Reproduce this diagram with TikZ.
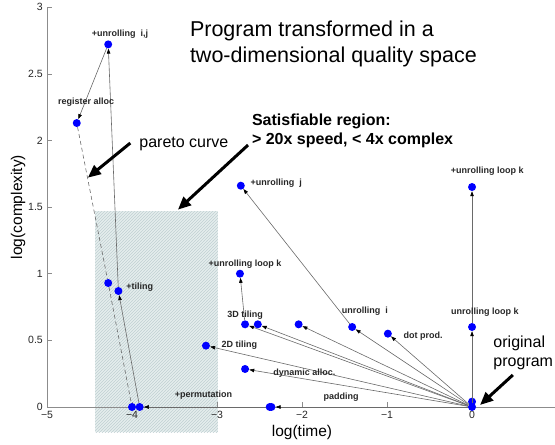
\documentclass[tikz,border=0pt]{standalone}
\usepackage{fontspec}
\setmainfont{Liberation Sans}
\usetikzlibrary{arrows.meta,positioning,patterns}
\definecolor{dotblue}{HTML}{0000FF}
\definecolor{axisgray}{HTML}{8C8C8C}
\definecolor{linkgray}{HTML}{6A6A6A}
\definecolor{hatchbg}{HTML}{E6EEEE}
\definecolor{hatchln}{HTML}{C0D0D2}

\begin{document}
\begin{tikzpicture}[x=85pt,y=133.3pt,
  pt/.style={circle,fill=dotblue,inner sep=0pt,minimum size=8pt},
  lbl/.style={font=\fontsize{9}{10}\selectfont\bfseries,inner sep=1pt,text=black!85},
  tick/.style={font=\fontsize{10.5}{11}\selectfont,inner sep=1pt,text=black!85},
  move/.style={draw=linkgray,line width=0.6pt,-{Triangle[length=5pt,width=3.5pt,color=black]}},
  big/.style={font=\fontsize{16}{19.5}\selectfont,align=left,inner sep=0pt},
  fat/.style={line width=3pt,-{Triangle[length=13pt,width=11pt]}}]
  \useasboundingbox (-5.553,-0.285) rectangle (0.976,3.053);

  % satisfiable region
  \fill[hatchbg] (-4.435,-0.19) rectangle (-2.99,1.47);
  \fill[pattern=north east lines,pattern color=hatchln] (-4.435,-0.19) rectangle (-2.99,1.47);

  % axes and ticks
  \draw[axisgray,line width=0.8pt] (-5,3) -- (-5,0) -- (0.976,0);
  \foreach \xv/\xt [count=\i] in {-5/−5,-4/−4,-3/−3,-2/−2,-1/−1,0/0} {
    \draw[axisgray] (\xv,0) -- ++(0,5pt);
    \node[tick,below=3pt] (xl\i) at (\xv,0) {\xt};
  }
  \foreach \yv [count=\i] in {0,0.5,1,1.5,2,2.5,3} {
    \draw[axisgray] (-5,\yv) -- ++(5pt,0);
    \node[tick,left=3pt] (yl\i) at (-5,\yv) {\yv};
  }
  \node[font=\fontsize{15.5}{16}\selectfont] (xlab) at (-2.0,-0.19) {log(time)};
  \node[font=\fontsize{15.5}{16}\selectfont,rotate=90] (ylab) at (-5.34,1.5) {log(complexity)};

  % program versions
  \node[pt] (orig) at (0,0) {};
  \node[pt] (orig2) at (0,0.04) {};
  \node[pt] (ulk1) at (0,0.6) {};
  \node[pt] (ulk2) at (0,1.65) {};
  \node[pt] (dotp) at (-0.99,0.55) {};
  \node[pt] (unri) at (-1.41,0.6) {};
  \node[pt] (t3c) at (-2.04,0.62) {};
  \node[pt] (t3b) at (-2.52,0.62) {};
  \node[pt] (t3a) at (-2.67,0.62) {};
  \node[pt] (ulkm) at (-2.73,1.0) {};
  \node[pt] (unj) at (-2.72,1.66) {};
  \node[pt] (t2d) at (-3.13,0.46) {};
  \node[pt] (dyn) at (-2.67,0.285) {};
  \node[pt] (pad) at (-2.38,0) {};
  \node[pt] (pad2) at (-2.36,0) {};
  \node[pt] (perm1) at (-4.0,0) {};
  \node[pt] (perm2) at (-3.91,0) {};
  \node[pt] (til1) at (-4.28,0.93) {};
  \node[pt] (til2) at (-4.16,0.87) {};
  \node[pt] (uij) at (-4.28,2.72) {};
  \node[pt] (reg) at (-4.65,2.13) {};

  % transformations
  \foreach \p in {ulk1,dotp,unri,t3c,t3b,t3a,t2d,dyn,pad2}
    \draw[move] (orig) -- (\p);
  \draw[move] (ulk1) -- (ulk2);
  \draw[move] (unri) -- (unj);
  \draw[move] (t3a) -- (ulkm);
  \draw[move] (pad) -- (perm2);
  \draw[move] (perm2) -- (til2);
  \draw[move] (til2) -- (uij);
  \draw[move] (uij) -- (reg);
  \draw[linkgray,line width=0.6pt,dash pattern=on 4pt off 3pt] (reg) -- (til1) -- (perm1);

  % labels
  \node[lbl] (uijl) at (-4.14,2.80) {+unrolling~ i,j};
  \node[lbl] (regl) at (-4.54,2.29) {register alloc};
  \node[lbl,anchor=west] (unjl) at (-2.62,1.68) {+unrolling~ j};
  \node[lbl] (ulk2l) at (0.18,1.77) {+unrolling loop k};
  \node[lbl] (ulkml) at (-2.67,1.07) {+unrolling loop k};
  \node[lbl,anchor=west] (till) at (-4.08,0.90) {+tiling};
  \node[lbl] (t3l) at (-2.67,0.69) {3D tiling};
  \node[lbl,anchor=west] (t2l) at (-2.96,0.465) {2D tiling};
  \node[lbl] (unril) at (-1.26,0.72) {unrolling~ i};
  \node[lbl,anchor=west] (dotpl) at (-0.82,0.53) {dot prod.};
  \node[lbl] (ulk1l) at (0.15,0.71) {unrolling loop k};
  \node[lbl,anchor=west] (dynl) at (-2.35,0.25) {dynamic alloc.};
  \node[lbl] (padl) at (-1.54,0.07) {padding};
  \node[lbl] (perml) at (-3.16,0.09) {+permutation};

  % callouts
  \node[big,font=\fontsize{21.5}{26}\selectfont,anchor=west] (title) at (-3.32,2.72)
    {Program transformed in a\\two-dimensional quality space};
  \node[big,font=\fontsize{16}{19.5}\selectfont\bfseries,anchor=west] (sat) at (-2.59,2.07)
    {Satisfiable region:\\> 20x speed, < 4x complex};
  \node[big] (pareto) at (-3.39,1.97) {pareto curve};
  \node[big,anchor=west] (origl) at (0.25,0.405) {original\\program};
  \coordinate (paretoA) at (-4.02,1.98);
  \coordinate (paretoB) at (-4.52,1.72);
  \coordinate (satA) at (-2.635,1.965);
  \coordinate (satB) at (-3.46,1.48);
  \coordinate (origA) at (0.48,0.24);
  \coordinate (origB) at (0.094,0.015);
  \draw[fat] (paretoA) -- (paretoB);
  \draw[fat] (satA) -- (satB);
  \draw[fat] (origA) -- (origB);
\end{tikzpicture}
\end{document}
